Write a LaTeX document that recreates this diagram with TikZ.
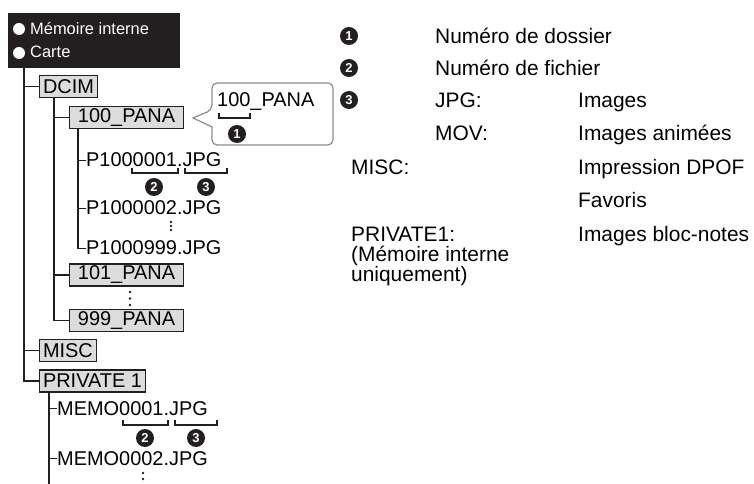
\documentclass[tikz,border=0pt]{standalone}
\usepackage{fontspec}
\setmainfont{Liberation Sans}
\usetikzlibrary{positioning,calc}
\definecolor{inkblack}{RGB}{35,31,32}
\definecolor{boxgray}{RGB}{220,220,220}
\definecolor{callgray}{RGB}{140,140,140}
\newcommand{\treefont}{\fontsize{20}{24}\selectfont}
\newcommand{\legfont}{\fontsize{21}{20}\selectfont}
\newcommand{\medfont}{\fontsize{16.5}{20}\selectfont}
\newcommand{\underbrk}[3]{\draw[brace] (#1,#3-5) -- (#1,#3) -- (#2,#3) -- (#2,#3-5);}
\tikzset{
  branch/.style={line width=1.1bp, inkblack},
  folder/.style={draw=inkblack, line width=1.1bp, fill=boxgray, anchor=west, inner xsep=3.5bp, inner ysep=0pt, minimum height=22bp, font=\treefont},
  panafolder/.style={folder, minimum width=114bp},
  filenode/.style={anchor=base west, inner sep=0pt, font=\treefont},
  bulletdot/.style={circle, fill=white, inner sep=0pt, minimum size=12bp},
  mediatext/.style={anchor=base west, inner sep=0pt, text=white, font=\medfont},
  numdot/.style={circle, fill=inkblack, text=white, inner sep=0pt, minimum size=18bp, font=\fontsize{13}{13}\selectfont\bfseries},
  legend/.style={anchor=base west, inner sep=0pt, font=\legfont},
  brace/.style={line width=1.5bp, inkblack},
  callout/.style={draw=callgray, line width=1.2bp, fill=white}
}

\begin{document}
\begin{tikzpicture}[x=1bp, y=-1bp]
  \useasboundingbox (0,0) rectangle (754,484);

  % storage header
  \node[fill=inkblack, anchor=north west, minimum width=172bp, minimum height=55bp, inner sep=0pt] (media) at (8,13) {};
  \node[bulletdot] (bul1) at (19,29) {};
  \node[bulletdot] (bul2) at (19,53) {};
  \node[mediatext] (intmem) at (30,35) {Mémoire interne};
  \node[mediatext] (card) at (30,58) {Carte};

  % folders and files
  \node[folder] (dcim) at (39,86.5) {DCIM};
  \node[panafolder] (pana100) at (69,117.5) {100\_PANA};
  \node[filenode] (f1) at (86,167) {P1000001.JPG};
  \node[filenode] (f2) at (86,215) {P1000002.JPG};
  \node[filenode] (f999) at (86,255) {P1000999.JPG};
  \node[panafolder] (pana101) at (69,275) {101\_PANA};
  \node[panafolder] (pana999) at (69,320.5) {999\_PANA};
  \node[folder] (misc) at (39,350.5) {MISC};
  \node[folder] (priv) at (39,381) {PRIVATE 1};
  \node[filenode] (m1) at (57,415) {MEMO0001.JPG};
  \node[filenode] (m2) at (57,465) {MEMO0002.JPG};

  \coordinate (trunk) at ($(media.south west)+(16,0)$);
  \coordinate (dcimdrop) at ($(dcim.south west)+(15,0)$);
  \coordinate (panadrop) at ($(pana100.south west)+(9,0)$);
  \coordinate (privdrop) at ($(priv.south west)+(10,0)$);
  \coordinate (privend) at (privdrop |- 0,484);

  \draw[branch] (trunk) |- (dcim.west);
  \draw[branch] (trunk) |- (misc.west);
  \draw[branch] (trunk) |- (priv.west);
  \draw[branch] (dcimdrop) |- (pana100.west);
  \draw[branch] (dcimdrop) |- (pana101.west);
  \draw[branch] (dcimdrop) |- (pana999.west);
  \draw[branch] (panadrop) |- (f1.west);
  \draw[branch] (panadrop) |- (f2.west);
  \draw[branch] (panadrop) |- (f999.west);
  \draw[branch] (privdrop) |- (m1.west);
  \draw[branch] (privdrop) |- (m2.west);
  \draw[branch] (privdrop) -- (privend);

  % continuation dots
  \foreach \y in {222,226,230} \fill[inkblack] (171,\y) circle (1.3bp);
  \foreach \y in {292,298.5,305} \fill[inkblack] (130,\y) circle (1.3bp);
  \foreach \y in {473,479} \fill[inkblack] (143,\y) circle (1.3bp);

  % file name parts
  \underbrk{132}{178}{173}
  \underbrk{185}{227}{173}
  \node[numdot] (f1num) at (154,187) {2};
  \node[numdot] (f1ext) at (206,187) {3};
  \underbrk{123}{168}{425}
  \underbrk{175}{217}{425}
  \node[numdot] (m1num) at (145,438) {2};
  \node[numdot] (m1ext) at (196,438) {3};

  % folder number callout
  \draw[callout, rounded corners=5bp] (212,110) [sharp corners] -- (193,118) -- (212,127)
    [rounded corners=5bp] -- (212,145) -- (333,145) -- (333,83) -- (212,83) -- cycle;
  \node[filenode] (calltxt) at (217,107) {100\_PANA};
  \underbrk{219}{250}{118}
  \node[numdot] (callnum) at (237,134) {1};

  % legend
  \node[numdot] (n1) at (349,36) {1};
  \node[numdot] (n2) at (349,68) {2};
  \node[numdot] (n3) at (349,100) {3};
  \node[legend] (lfolder) at (435,43.5) {Numéro de dossier};
  \node[legend] (lfile) at (435,75.5) {Numéro de fichier};
  \node[legend] (ljpg) at (435,107.5) {JPG:};
  \node[legend] (ljpgd) at (578,107.5) {Images};
  \node[legend] (lmov) at (435,140.5) {MOV:};
  \node[legend] (lmovd) at (578,140.5) {Images animées};
  \node[legend] (lmisc) at (351,174.5) {MISC:};
  \node[legend] (lmiscd) at (578,174.5) {Impression DPOF};
  \node[legend] (lfav) at (578,207.5) {Favoris};
  \node[legend] (lpriv) at (351,241.5) {PRIVATE1:};
  \node[legend] (lprivd) at (578,241.5) {Images bloc-notes};
  \node[legend] (lpriv2) at (351,261.5) {(Mémoire interne};
  \node[legend] (lpriv3) at (351,281.5) {uniquement)};
\end{tikzpicture}
\end{document}
